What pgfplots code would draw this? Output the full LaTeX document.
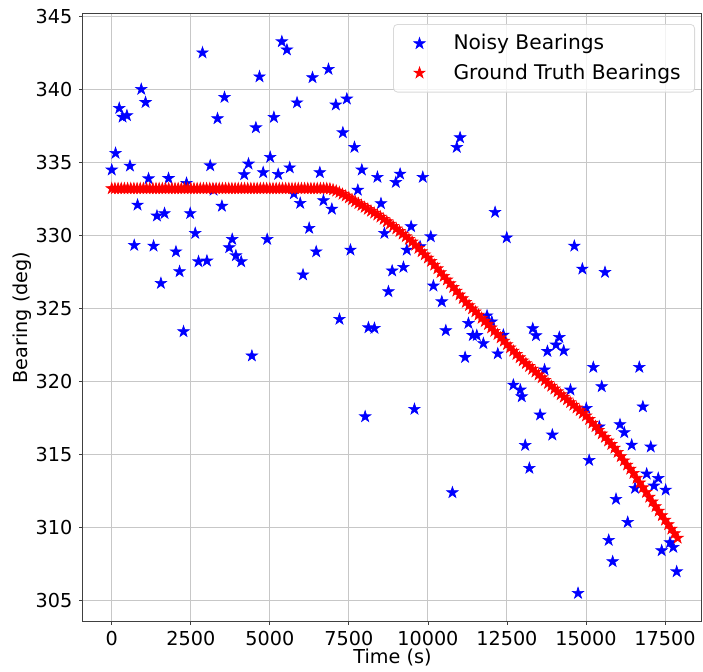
\documentclass[border=0pt]{standalone}
\usepackage{fontspec}
\setmainfont{DejaVu Sans}
\usepackage{pgfplots}
\pgfplotsset{compat=1.18}

\pgfdeclareplotmark{fstar}{%
  \pgfpathmoveto{\pgfpointpolar{90}{\pgfplotmarksize}}%
  \pgfpathlineto{\pgfpointpolar{126}{0.382\pgfplotmarksize}}%
  \pgfpathlineto{\pgfpointpolar{162}{\pgfplotmarksize}}%
  \pgfpathlineto{\pgfpointpolar{198}{0.382\pgfplotmarksize}}%
  \pgfpathlineto{\pgfpointpolar{234}{\pgfplotmarksize}}%
  \pgfpathlineto{\pgfpointpolar{270}{0.382\pgfplotmarksize}}%
  \pgfpathlineto{\pgfpointpolar{306}{\pgfplotmarksize}}%
  \pgfpathlineto{\pgfpointpolar{342}{0.382\pgfplotmarksize}}%
  \pgfpathlineto{\pgfpointpolar{18}{\pgfplotmarksize}}%
  \pgfpathlineto{\pgfpointpolar{54}{0.382\pgfplotmarksize}}%
  \pgfpathclose
  \pgfusepathqfillstroke
}

\begin{document}
\begin{tikzpicture}
\begin{axis}[
  at={(0,0)}, anchor=south west,
  scale only axis,
  width=309.5pt, height=303.5pt,
  xmin=-910, xmax=18670,
  ymin=303.6, ymax=345.15,
  xtick={0,2500,5000,7500,10000,12500,15000,17500},
  ytick={305,310,315,320,325,330,335,340,345},
  /pgf/number format/1000 sep={},
  /pgf/number format/assume math mode=true,
  scaled x ticks=false,
  tick label style={font=\fontsize{9.6}{11}\selectfont, black},
  label style={font=\fontsize{9.6}{11}\selectfont},
  xlabel={Time (s)}, ylabel={Bearing (deg)},
  xlabel style={at={(axis description cs:0.5,-0.0593)}, anchor=center},
  ylabel style={at={(axis description cs:-0.0985,0.5)}, anchor=center},
  grid=major,
  major grid style={draw=black!22, line width=0.45pt},
  axis line style={draw=black!75, line width=0.5pt},
  tick pos=left, tick align=outside,
  major tick length=1.8pt,
  every tick/.style={black!75, line width=0.4pt},
  legend style={at={(0.9887,0.9835)}, anchor=north east,
    draw=black!15, rounded corners=2pt, fill=white, fill opacity=0.8, text opacity=1,
    font=\fontsize{10.1}{11.5}\selectfont,
    inner xsep=5pt, inner ysep=3pt, row sep=1.5pt,
    nodes={inner sep=2pt}},
  legend cell align=left,
  legend image code/.code={\path[draw=none,fill=none] (0pt,0pt) (23pt,0pt); \draw[mark repeat=1, fill opacity=1, draw opacity=1, opacity=1] plot coordinates {(8pt,0pt)};},
]
\addplot[only marks, mark=fstar, mark size=3pt, draw=blue, fill=blue, line width=0.3pt] table {
t v
0 334.48
120 335.62
237 338.7
342 338.1
480 338.2
575 334.75
711 329.32
816 332.08
933 340.0
1069 339.1
1163 333.88
1322 329.27
1429 331.33
1555 326.72
1669 331.5
1796 333.9
2030 328.88
2144 327.52
2270 323.41
2365 333.57
2482 331.5
2640 330.14
2744 328.2
2870 342.5
3010 328.25
3114 334.77
3220 333.1
3345 337.99
3484 332.0
3566 339.45
3715 329.16
3810 329.73
3926 328.61
4094 328.2
4189 334.16
4325 334.89
4432 321.75
4559 337.37
4673 340.86
4790 334.3
4916 329.73
5011 335.35
5128 338.08
5264 334.18
5380 343.26
5540 342.7
5630 334.63
5760 332.85
5860 339.08
5960 332.2
6050 327.3
6244 330.49
6349 340.8
6466 328.88
6582 334.3
6696 332.38
6855 341.37
6962 331.8
7088 338.93
7202 324.26
7310 337.03
7436 339.34
7551 329.0
7677 336.03
7784 333.1
7910 334.48
8015 317.59
8119 323.68
8309 323.64
8403 333.98
8516 332.18
8625 330.14
8751 326.15
8870 327.57
8985 333.63
9121 334.2
9226 327.82
9333 329.0
9469 330.6
9574 318.1
9753 329.23
9839 333.98
10092 329.91
10174 326.54
10440 325.46
10566 323.48
10775 312.39
10914 336.03
11018 336.69
11176 321.65
11281 323.98
11420 323.15
11546 323.15
11755 322.6
11870 324.5
12021 324.09
12125 331.58
12210 321.9
12387 323.18
12494 329.84
12703 319.76
12924 319.42
12969 318.96
13078 315.63
13209 314.06
13316 323.62
13420 323.14
13549 317.71
13690 320.8
13780 322.06
13936 316.34
14053 322.5
14157 323.02
14295 322.1
14510 319.42
14632 329.27
14749 305.5
14885 327.7
15010 318.16
15100 314.6
15233 320.97
15422 316.9
15498 319.65
15602 327.47
15719 309.13
15845 307.67
15950 311.94
16076 317.05
16212 316.5
16320 310.36
16446 315.65
16551 312.69
16687 320.97
16800 318.27
16920 313.67
17050 315.52
17151 312.85
17287 313.37
17395 308.42
17521 312.57
17657 308.97
17762 308.65
17869 306.98
};
\addlegendentry{Noisy Bearings}
\addplot[only marks, mark=fstar, mark size=3pt, draw=red, fill=red, line width=0.3pt] table {
t v
0 333.2
100 333.2
200 333.2
300 333.2
400 333.2
500 333.2
600 333.2
700 333.2
800 333.2
900 333.2
1000 333.2
1100 333.2
1200 333.2
1300 333.2
1400 333.2
1500 333.2
1600 333.2
1700 333.2
1800 333.2
1900 333.2
2000 333.2
2100 333.2
2200 333.2
2300 333.2
2400 333.2
2500 333.2
2600 333.2
2700 333.2
2800 333.2
2900 333.2
3000 333.2
3100 333.2
3200 333.2
3300 333.2
3400 333.2
3500 333.2
3600 333.2
3700 333.2
3800 333.2
3900 333.2
4000 333.2
4100 333.2
4200 333.2
4300 333.2
4400 333.2
4500 333.2
4600 333.2
4700 333.2
4800 333.2
4900 333.2
5000 333.2
5100 333.2
5200 333.2
5300 333.2
5400 333.2
5500 333.2
5600 333.2
5700 333.2
5800 333.2
5900 333.2
6000 333.2
6100 333.2
6200 333.2
6300 333.2
6400 333.2
6500 333.2
6600 333.2
6700 333.2
6800 333.2
6900 333.18
7000 333.12
7100 333.04
7200 332.94
7300 332.82
7400 332.70
7500 332.57
7600 332.44
7700 332.31
7800 332.18
7900 332.05
8000 331.92
8100 331.79
8200 331.66
8300 331.53
8400 331.40
8500 331.26
8600 331.10
8700 330.94
8800 330.78
8900 330.62
9000 330.45
9100 330.27
9200 330.09
9300 329.91
9400 329.73
9500 329.55
9600 329.33
9700 329.11
9800 328.89
9900 328.67
10000 328.45
10100 328.23
10200 327.97
10300 327.72
10400 327.46
10500 327.20
10600 326.95
10700 326.70
10800 326.44
10900 326.19
11000 325.93
11100 325.68
11200 325.42
11300 325.20
11400 324.98
11500 324.77
11600 324.55
11700 324.33
11800 324.11
11900 323.90
12000 323.67
12100 323.44
12200 323.22
12300 322.99
12400 322.76
12500 322.53
12600 322.31
12700 322.08
12800 321.85
12900 321.63
13000 321.42
13100 321.23
13200 321.03
13300 320.84
13400 320.65
13500 320.45
13600 320.26
13700 320.07
13800 319.87
13900 319.68
14000 319.49
14100 319.30
14200 319.10
14300 318.93
14400 318.75
14500 318.56
14600 318.38
14700 318.19
14800 318.01
14900 317.82
15000 317.64
15100 317.40
15200 317.15
15300 316.91
15400 316.66
15500 316.42
15600 316.18
15700 315.93
15800 315.69
15900 315.44
16000 315.15
16100 314.86
16200 314.57
16300 314.28
16400 314.00
16500 313.71
16600 313.38
16700 313.06
16800 312.73
16900 312.41
17000 312.08
17100 311.76
17200 311.44
17300 311.13
17400 310.82
17500 310.51
17600 310.20
17700 309.90
17800 309.59
17900 309.28
};
\addlegendentry{Ground Truth Bearings}
\end{axis}
\pgfresetboundingbox
\useasboundingbox (-41.5pt,-25pt) rectangle (310pt,310.5pt);
\end{tikzpicture}
\end{document}
